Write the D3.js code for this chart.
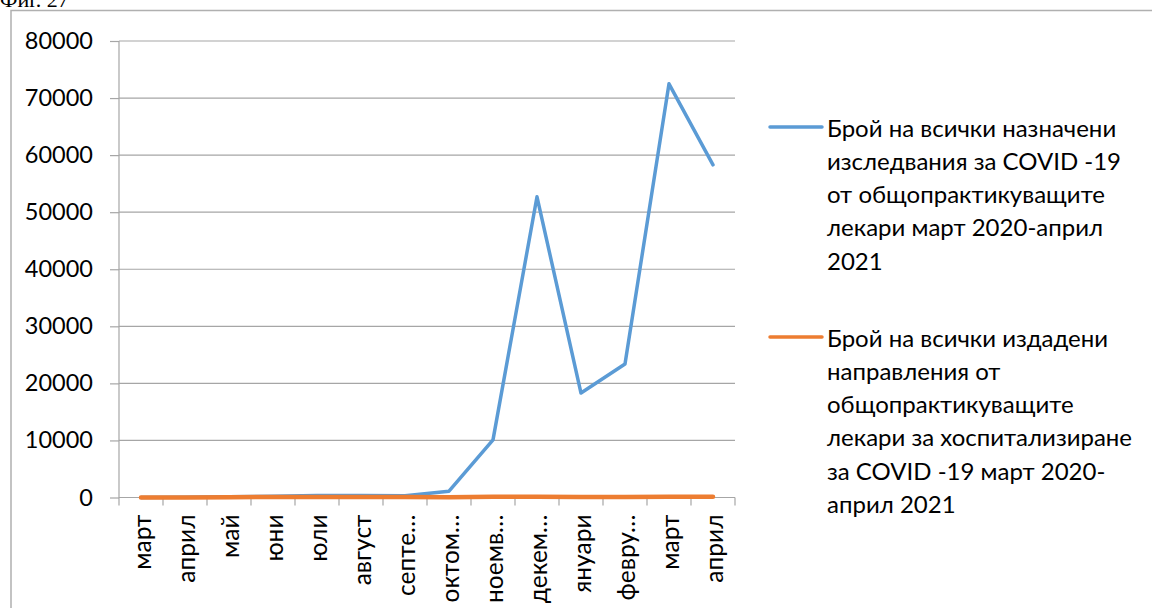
<!DOCTYPE html>
<html>
<head>
<meta charset="utf-8">
<script src="https://cdn.jsdelivr.net/npm/d3@7"></script>
<style>
  html, body { margin: 0; padding: 0; background: #fff; }
  svg { display: block; }
</style>
</head>
<body>
<svg id="chart" width="1152" height="608"></svg>
<script>
// Months, March 2020 – April 2021 (long names are shortened with an ellipsis)
const categories = ["март", "април", "май", "юни", "юли", "август", "септе…",
  "октом…", "ноемв…", "декем…", "януари", "февру…", "март", "април"];

// COVID-19 tests ordered by GPs
const testsOrdered = [20, 50, 150, 200, 350, 350, 300, 1100, 10100, 52700, 18300, 23400, 72500, 58300];
// Hospitalisation referrals issued by GPs
const referralsIssued = [10, 20, 60, 80, 100, 90, 70, 60, 110, 140, 80, 70, 110, 120];

const yTicks = [0, 10000, 20000, 30000, 40000, 50000, 60000, 70000, 80000];

const legendLines = [
  ["Брой на всички назначени", "изследвания за COVID -19", "от общопрактикуващите",
   "лекари март 2020-април", "2021"],
  ["Брой на всички издадени", "направления от", "общопрактикуващите",
   "лекари за хоспитализиране", "за COVID -19 март 2020-", "април 2021"]
];
const seriesColors = ["#5b9bd5", "#ed7d31"];

const FONT = "Lato, 'Open Sans', sans-serif";
const svg = d3.select("#chart");

// Caption above the frame
svg.append("text")
  .attr("x", 0).attr("y", 7)
  .attr("font-family", "'Liberation Serif', serif")
  .attr("font-size", 22)
  .attr("fill", "#000")
  .text("Фиг. 27");

// Chart frame
svg.append("rect")
  .attr("x", 11).attr("y", 10.5)
  .attr("width", 1160).attr("height", 620)
  .attr("fill", "none").attr("stroke", "#b0b0b0").attr("stroke-width", 1.5);

const plot = { left: 119, right: 735, top: 41, bottom: 497.5 };

const x = d3.scaleBand()
  .domain(d3.range(categories.length))
  .range([plot.left, plot.right]);

const y = d3.scaleLinear()
  .domain([0, 80000])
  .range([plot.bottom, plot.top]);

// Horizontal gridlines
svg.append("g")
  .selectAll("line")
  .data(yTicks)
  .join("line")
  .attr("x1", plot.left).attr("x2", plot.right)
  .attr("y1", d => y(d)).attr("y2", d => y(d))
  .attr("stroke", "#a6a6a6").attr("stroke-width", 1.2);

// Y axis
const yAxis = svg.append("g")
  .attr("transform", `translate(${plot.left},0)`)
  .call(d3.axisLeft(y).tickValues(yTicks).tickSize(9).tickPadding(17).tickFormat(d3.format("d")));
yAxis.select(".domain").attr("stroke", "#a6a6a6").attr("stroke-width", 1.2)
  .attr("d", `M0,${plot.top}V${plot.bottom + 8}`);
yAxis.selectAll(".tick line").attr("stroke", "#a6a6a6").attr("stroke-width", 1.2);
yAxis.selectAll(".tick text")
  .attr("font-family", FONT).attr("font-size", 23.5).attr("fill", "#000");

// X axis with ticks between categories
const xAxisG = svg.append("g")
  .attr("transform", `translate(0,${plot.bottom})`);
xAxisG.append("line")
  .attr("x1", plot.left).attr("x2", plot.right)
  .attr("stroke", "#a6a6a6").attr("stroke-width", 1.2);
xAxisG.selectAll("line.tk")
  .data(d3.range(1, categories.length + 1))
  .join("line").attr("class", "tk")
  .attr("x1", i => plot.left + i * x.step()).attr("x2", i => plot.left + i * x.step())
  .attr("y1", 0).attr("y2", 8)
  .attr("stroke", "#a6a6a6").attr("stroke-width", 1.2);
xAxisG.selectAll("text")
  .data(categories)
  .join("text")
  .attr("transform", (d, i) => `translate(${x(i) + x.bandwidth() / 2},17) rotate(-90)`)
  .attr("text-anchor", "end")
  .attr("dominant-baseline", "central")
  .attr("font-family", FONT).attr("font-size", 24.5).attr("fill", "#000")
  .text(d => d);

// Series lines
const line = d3.line()
  .x((d, i) => x(i) + x.bandwidth() / 2)
  .y(d => y(d));

[testsOrdered, referralsIssued].forEach((vals, k) => {
  svg.append("path")
    .datum(vals)
    .attr("d", line)
    .attr("fill", "none")
    .attr("stroke", seriesColors[k])
    .attr("stroke-width", k === 0 ? 3.5 : 4.5)
    .attr("stroke-linejoin", "round")
    .attr("stroke-linecap", "round");
});

// Legend
const legendTop = [127, 337];
const lineGap = 33.3;
legendLines.forEach((lines, k) => {
  const g = svg.append("g");
  g.append("line")
    .attr("x1", 770).attr("x2", 822)
    .attr("y1", legendTop[k]).attr("y2", legendTop[k])
    .attr("stroke", seriesColors[k]).attr("stroke-width", 3.5)
    .attr("stroke-linecap", "round");
  g.selectAll("text")
    .data(lines)
    .join("text")
    .attr("x", 827)
    .attr("y", (d, i) => legendTop[k] + i * lineGap)
    .attr("dominant-baseline", "central")
    .attr("font-family", FONT).attr("font-size", 24).attr("fill", "#000")
    .text(d => d);
});
</script>
</body>
</html>
